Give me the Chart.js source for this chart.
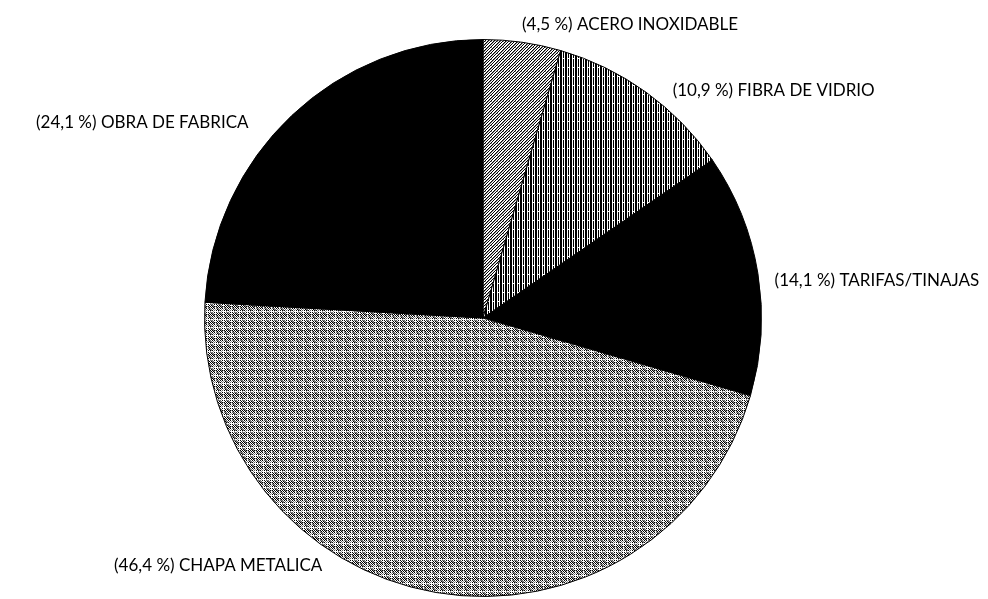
<!DOCTYPE html>
<html>
<head>
<meta charset="utf-8">
<script src="https://cdn.jsdelivr.net/npm/chart.js@4.4.0/dist/chart.umd.min.js"></script>
<style>
  html, body { margin: 0; padding: 0; background: #fff; }
  #pie { display: block; }
</style>
</head>
<body>
<canvas id="pie" width="988" height="599"></canvas>
<script>
// tipos de depósito, en el orden en que se dibujan (horario desde las 12)
const materiales = ['ACERO INOXIDABLE', 'FIBRA DE VIDRIO', 'TARIFAS/TINAJAS', 'CHAPA METALICA', 'OBRA DE FABRICA'];
const porcentajes = [4.5, 10.9, 14.1, 46.4, 24.1];

// donde va cada rótulo, relativo al centro y en fracciones del radio
const posRotulos = [[0.140, -1.054], [0.681, -0.817], [1.047, -0.136], [-0.577, 0.889], [-0.842, -0.703]];

// tramas de relleno
function trama(w, h, pintar) {
  const c = document.createElement('canvas');
  c.width = w; c.height = h;
  const g = c.getContext('2d');
  g.fillStyle = '#fff';
  g.fillRect(0, 0, w, h);
  for (let y = 0; y < h; y++) {
    for (let x = 0; x < w; x++) {
      const col = pintar(x, y);
      if (col) { g.fillStyle = col; g.fillRect(x, y, 1, 1); }
    }
  }
  return g.createPattern(c, 'repeat');
}

const ctx = document.getElementById('pie').getContext('2d');

// rayado diagonal gris
const rayado = trama(6, 6, (x, y) => {
  const k = (x + y) % 3;
  if (k === 0) return '#000';
  if (k === 1) return (x * 5 + y) % 4 === 0 ? '#fff' : '#888';
  return null;
});
// listas verticales
const listas = trama(5, 9, (x, y) => {
  if (x === 0 || x === 1 || x === 3) return (x === 3 && y === 4) ? null : '#000';
  return null;
});
// punteado gris
const punteado = trama(8, 8, (x, y) => {
  if (x === 7 || y === 7) return (x + y) % 3 === 0 ? '#999' : null;
  if ((x + y) % 2 === 0) return (x * 3 + y * 5) % 7 < 5 ? '#000' : '#666';
  if ((x * 2 + y) % 3 === 0) return '#888';
  return null;
});
const rellenos = [rayado, listas, '#000', punteado, '#000'];

const fmt = v => v.toFixed(1).replace('.', ',');

// rótulos "(x,x %) NOMBRE" junto a cada sector
const rotulos = {
  id: 'rotulos',
  afterDatasetsDraw(chart) {
    const c = chart.ctx;
    const arcs = chart.getDatasetMeta(0).data;
    c.save();
    c.font = '17px Lato';
    c.fillStyle = '#000';
    c.textBaseline = 'middle';
    arcs.forEach((arc, i) => {
      const r = arc.outerRadius;
      const p = posRotulos[i];
      c.textAlign = p[0] >= 0 ? 'left' : 'right';
      c.fillText('(' + fmt(porcentajes[i]) + ' %) ' + materiales[i], arc.x + p[0] * r, arc.y + p[1] * r);
    });
    c.restore();
  }
};

new Chart(ctx, {
  type: 'pie',
  data: {
    labels: materiales,
    datasets: [{
      data: porcentajes,
      backgroundColor: rellenos,
      borderColor: '#000',
      borderWidth: 1
    }]
  },
  options: {
    responsive: false,
    animation: false,
    devicePixelRatio: 1,
    layout: { padding: { left: 0, right: 22, top: 39, bottom: 2 } },
    plugins: {
      legend: { display: false },
      tooltip: { enabled: false }
    }
  },
  plugins: [rotulos]
});
</script>
</body>
</html>
